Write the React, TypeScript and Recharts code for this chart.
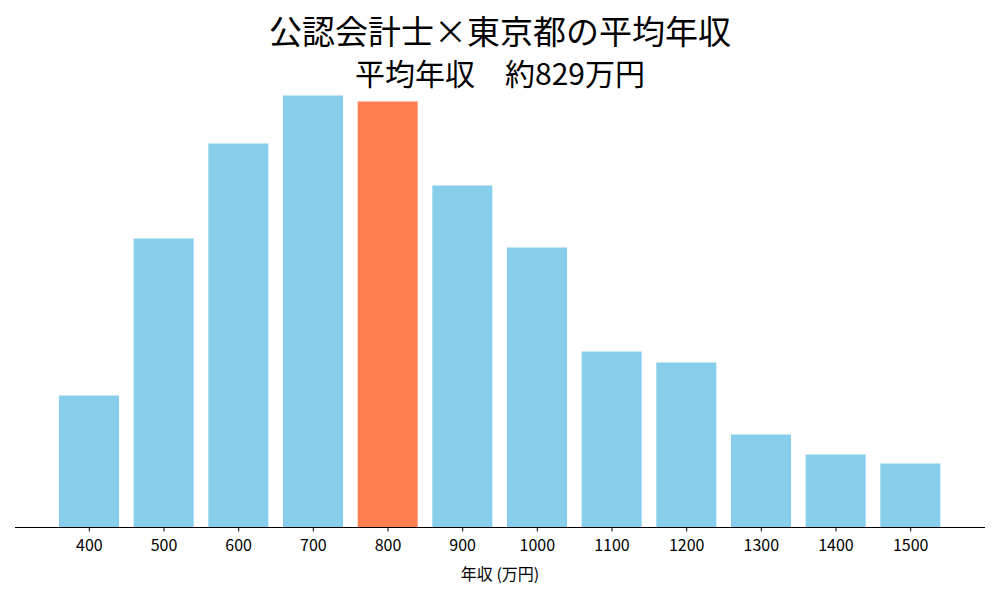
import { BarChart, Bar, XAxis, YAxis, Cell } from 'recharts';

const incomes = ['400', '500', '600', '700', '800', '900', '1000', '1100', '1200', '1300', '1400', '1500'];
const counts = [132, 289, 384, 432, 426, 342, 280, 176, 165, 93, 73, 64];
const highlight = '800';

const data = incomes.map((income, i) => ({ income, count: counts[i] }));

const font = '"Noto Sans CJK JP", "Noto Sans", sans-serif';

export default function App() {
  return (
    <div style={{ position: 'absolute', left: 0, top: 0, width: 1000, height: 600, background: '#fff', fontFamily: font }}>
      <div style={{ position: 'absolute', left: 0, top: 8, width: 1000, textAlign: 'center', fontSize: 33, lineHeight: '44px', color: '#000' }}>
        公認会計士×東京都の平均年収
      </div>
      <div style={{ position: 'absolute', left: 0, top: 52, width: 1000, textAlign: 'center', fontSize: 30, lineHeight: '40px', color: '#000' }}>
        平均年収　約829万円
      </div>
      <BarChart
        width={1000}
        height={600}
        data={data}
        margin={{ top: 73.5, right: 15, left: 15, bottom: 0 }}
        barCategoryGap={0}
      >
        <XAxis
          dataKey="income"
          padding={{ left: 37, right: 37 }}
          height={72.5}
          stroke="#000"
          axisLine={{ stroke: '#000', strokeWidth: 1 }}
          tickLine={{ stroke: '#000' }}
          tickSize={4}
          tickMargin={8}
          fontSize={16}
          tick={{ fill: '#000', fontSize: 16, fontFamily: font }}
          interval={0}
          label={{ value: '年収 (万円)', position: 'insideBottom', offset: 20, fill: '#000', fontSize: 16, fontFamily: font }}
        />
        <YAxis hide domain={[0, 454]} />
        <Bar dataKey="count" barSize={60} isAnimationActive={false}>
          {data.map((d) => (
            <Cell key={d.income} fill={d.income === highlight ? '#FF7F50' : '#87CEEB'} />
          ))}
        </Bar>
      </BarChart>
    </div>
  );
}
